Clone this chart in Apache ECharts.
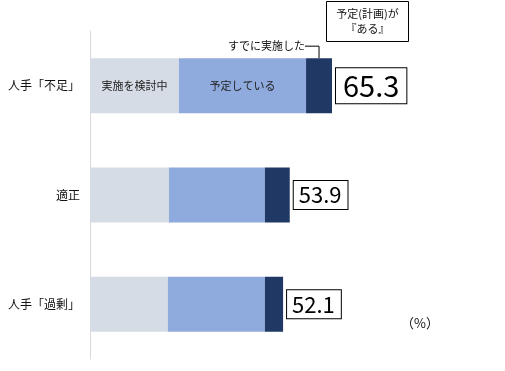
<!DOCTYPE html>
<html><head><meta charset="utf-8">
<script src="https://cdn.jsdelivr.net/npm/echarts@6/dist/echarts.min.js"></script>
<style>html,body{margin:0;padding:0;background:#fff}#c{width:505px;height:371px}</style>
</head><body><div id="c"></div>
<script>
const categories = ['人手「不足」', '適正', '人手「過剰」'];
const seriesNames = ['実施を検討中', '予定している', 'すでに実施した'];
const considering = [24.0, 21.3, 21.0];
const planned = [34.3, 25.9, 26.2];
const implemented = [7.0, 6.7, 4.9];
const totals = categories.map((_, i) => +(considering[i] + planned[i] + implemented[i]).toFixed(1));

const FONT = '"Noto Sans CJK JP", sans-serif';
const chart = echarts.init(document.getElementById('c'), null, {renderer: 'canvas'});

const innerLabel = (name) => (v, i) => ({
  value: v,
  label: i === 0 ? {show: true, position: 'inside', formatter: name, color: '#222', fontSize: 11, fontFamily: FONT} : {show: false}
});

const option = {
  animation: false,
  grid: {left: 90, top: 31, width: 370.6, height: 328},
  xAxis: {type: 'value', min: 0, max: 100, show: false},
  yAxis: {
    type: 'category', data: categories, inverse: true,
    axisLine: {show: true, lineStyle: {color: '#d9d9d9', width: 1}},
    axisTick: {show: false},
    axisLabel: {color: '#111', fontSize: 12, fontFamily: FONT, margin: 10}
  },
  series: [
    {name: seriesNames[0], type: 'bar', stack: 's', barWidth: 55, itemStyle: {color: '#d6dce5'},
     data: considering.map(innerLabel(seriesNames[0]))},
    {name: seriesNames[1], type: 'bar', stack: 's', barWidth: 55, itemStyle: {color: '#8faadc'},
     data: planned.map(innerLabel(seriesNames[1]))},
    {name: seriesNames[2], type: 'bar', stack: 's', barWidth: 55, itemStyle: {color: '#203864'},
     data: implemented.map((v, i) => ({
       value: v,
       label: {
         show: true, position: 'right', distance: 4,
         formatter: () => totals[i].toFixed(1),
         color: '#000', fontFamily: FONT,
         fontSize: i === 0 ? 29 : 22,
         borderColor: '#000', borderWidth: 1,
         backgroundColor: '#fff',
         padding: i === 0 ? [1, 7, 0, 7] : [1, 6, 0, 5],
         lineHeight: i === 0 ? 34 : 27
       }
     }))}
  ]
};
chart.setOption(option);

// annotations anchored to the axes
const seg3Center = chart.convertToPixel({gridIndex: 0}, [considering[0] + planned[0] + implemented[0] / 2, 0]);
const barTop = seg3Center[1] - 27.5;
chart.setOption({
  graphic: [
    {type: 'text', x: seg3Center[0] - 14, y: barTop - 12,
     style: {text: 'すでに実施した', font: '11px ' + FONT, fill: '#111', align: 'right', verticalAlign: 'middle'}},
    {type: 'polyline', shape: {points: [[seg3Center[0] - 14, barTop - 12], [seg3Center[0], barTop - 12], [seg3Center[0], barTop]]},
     style: {stroke: '#000', lineWidth: 1, fill: null}},
    {type: 'rect', shape: {x: 326.5, y: 1.5, width: 82, height: 40}, style: {stroke: '#000', lineWidth: 1, fill: '#fff'}},
    {type: 'text', x: 367.5, y: 21.5,
     style: {text: '予定(計画)が\n『ある』', font: '11px ' + FONT, lineHeight: 15, fill: '#111', align: 'center', verticalAlign: 'middle'}},
    {type: 'text', x: 420, y: 323,
     style: {text: '（%）', font: '13px ' + FONT, fill: '#111', align: 'center', verticalAlign: 'middle'}}
  ]
});
</script>
</body></html>
